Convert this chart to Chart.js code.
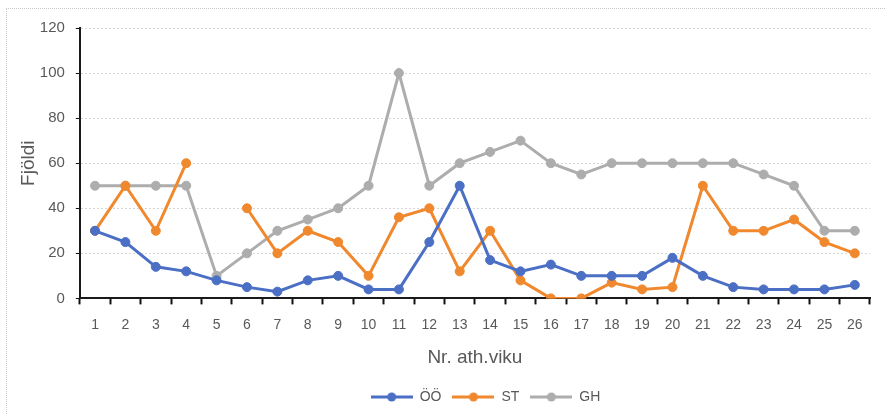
<!DOCTYPE html>
<html>
<head>
<meta charset="utf-8">
<script src="https://cdn.jsdelivr.net/npm/chart.js@4"></script>
<style>
  html, body { margin: 0; padding: 0; background: #fff; }
  #wrap { position: relative; width: 885px; height: 414px; }
  #frame { position: absolute; left: 6px; top: 8px; right: -2px; bottom: -2px; border: 1px dotted #c8c8c8; }
  canvas { position: absolute; left: 0; top: 0; }
</style>
</head>
<body>
<div id="wrap">
  <div id="frame"></div>
  <canvas id="chart" width="885" height="414"></canvas>
</div>
<script>
const vikur = ['1','2','3','4','5','6','7','8','9','10','11','12','13','14','15','16','17','18','19','20','21','22','23','24','25','26'];
const gildiOO = [30, 25, 14, 12, 8, 5, 3, 8, 10, 4, 4, 25, 50, 17, 12, 15, 10, 10, 10, 18, 10, 5, 4, 4, 4, 6];
const gildiST = [30, 50, 30, 60, null, 40, 20, 30, 25, 10, 36, 40, 12, 30, 8, 0, 0, 7, 4, 5, 50, 30, 30, 35, 25, 20];
const gildiGH = [50, 50, 50, 50, 10, 20, 30, 35, 40, 50, 100, 50, 60, 65, 70, 60, 55, 60, 60, 60, 60, 60, 55, 50, 30, 30];
const yTicks = [0, 20, 40, 60, 80, 100, 120];

// litlar myndir fyrir skýringar (lína með punkti)
function legendIcon(litur) {
    const c = document.createElement('canvas');
    c.width = 42; c.height = 12;
    const g = c.getContext('2d');
    g.strokeStyle = litur;
    g.lineWidth = 3;
    g.beginPath(); g.moveTo(0, 6); g.lineTo(42, 6); g.stroke();
    g.fillStyle = litur;
    g.beginPath(); g.arc(21, 6, 4.5, 0, Math.PI * 2); g.fill();
    return c;
}

function rod(label, data, litur) {
    return {
        label: label,
        data: data,
        borderColor: litur,
        backgroundColor: litur,
        borderWidth: 3,
        pointRadius: 4.5,
        pointBorderWidth: 1,
        pointHoverRadius: 5,
        pointBackgroundColor: litur,
        pointBorderColor: litur,
        pointStyle: 'circle',
        spanGaps: false,
        tension: 0,
        legendIcon: legendIcon(litur)
    };
}

// færa skýringarnar aðeins til hægri, eins og í myndinni
const legendShift = {
    id: 'legendShift',
    afterLayout(chart) {
        if (chart.legend) chart.legend.left += 84;
    }
};

const ctx = document.getElementById('chart').getContext('2d');
new Chart(ctx, {
    type: 'line',
    data: {
        labels: vikur,
        datasets: [
            rod('ÖÖ', gildiOO, '#4a6fc4'),
            rod('ST', gildiST, '#f0882e'),
            rod('GH', gildiGH, '#adadad')
        ]
    },
    plugins: [legendShift],
    options: {
        responsive: false,
        animation: false,
        layout: { padding: { left: 17, right: 15, top: 28, bottom: 0 } },
        plugins: {
            legend: {
                display: true,
                position: 'bottom',
                labels: {
                    usePointStyle: true,
                    pointStyleWidth: 42,
                    boxHeight: 12,
                    color: '#595959',
                    font: { family: 'Liberation Sans, Arial', size: 14 },
                    padding: 11,
                    generateLabels: function (chart) {
                        return chart.data.datasets.map((ds, i) => ({
                            text: ds.label,
                            pointStyle: ds.legendIcon,
                            fillStyle: ds.borderColor,
                            strokeStyle: ds.borderColor,
                            lineWidth: 0,
                            fontColor: '#595959',
                            datasetIndex: i,
                            hidden: false
                        }));
                    }
                }
            },
            tooltip: { enabled: false }
        },
        scales: {
            x: {
                offset: true,
                title: {
                    display: true,
                    text: 'Nr. ath.viku',
                    color: '#595959',
                    font: { family: 'Liberation Sans, Arial', size: 19 },
                    padding: { top: 1, bottom: 10 }
                },
                ticks: {
                    autoSkip: false,
                    maxRotation: 0,
                    color: '#595959',
                    font: { family: 'Liberation Sans, Arial', size: 14 },
                    padding: 12
                },
                grid: {
                    offset: true,
                    drawOnChartArea: false,
                    drawTicks: true,
                    tickLength: 6,
                    tickColor: '#111',
                    tickWidth: 2
                },
                border: { display: true, color: '#1a1a1a', width: 2 }
            },
            y: {
                min: 0,
                max: 120,
                afterBuildTicks: function (axis) {
                    axis.ticks = yTicks.map(v => ({ value: v }));
                },
                title: {
                    display: true,
                    text: 'Fjöldi',
                    color: '#595959',
                    font: { family: 'Liberation Sans, Arial', size: 19 },
                    padding: { top: 0, bottom: -11 }
                },
                ticks: {
                    color: '#595959',
                    font: { family: 'Liberation Sans, Arial', size: 15 },
                    padding: 11
                },
                grid: {
                    color: '#d6d6d6',
                    lineWidth: 1,
                    drawTicks: true,
                    tickLength: 4,
                    tickColor: '#111',
                    tickBorderDash: [],
                    borderDash: [2, 2]
                },
                border: { display: true, color: '#1a1a1a', width: 2, dash: [2, 2] }
            }
        }
    }
});
</script>
</body>
</html>
